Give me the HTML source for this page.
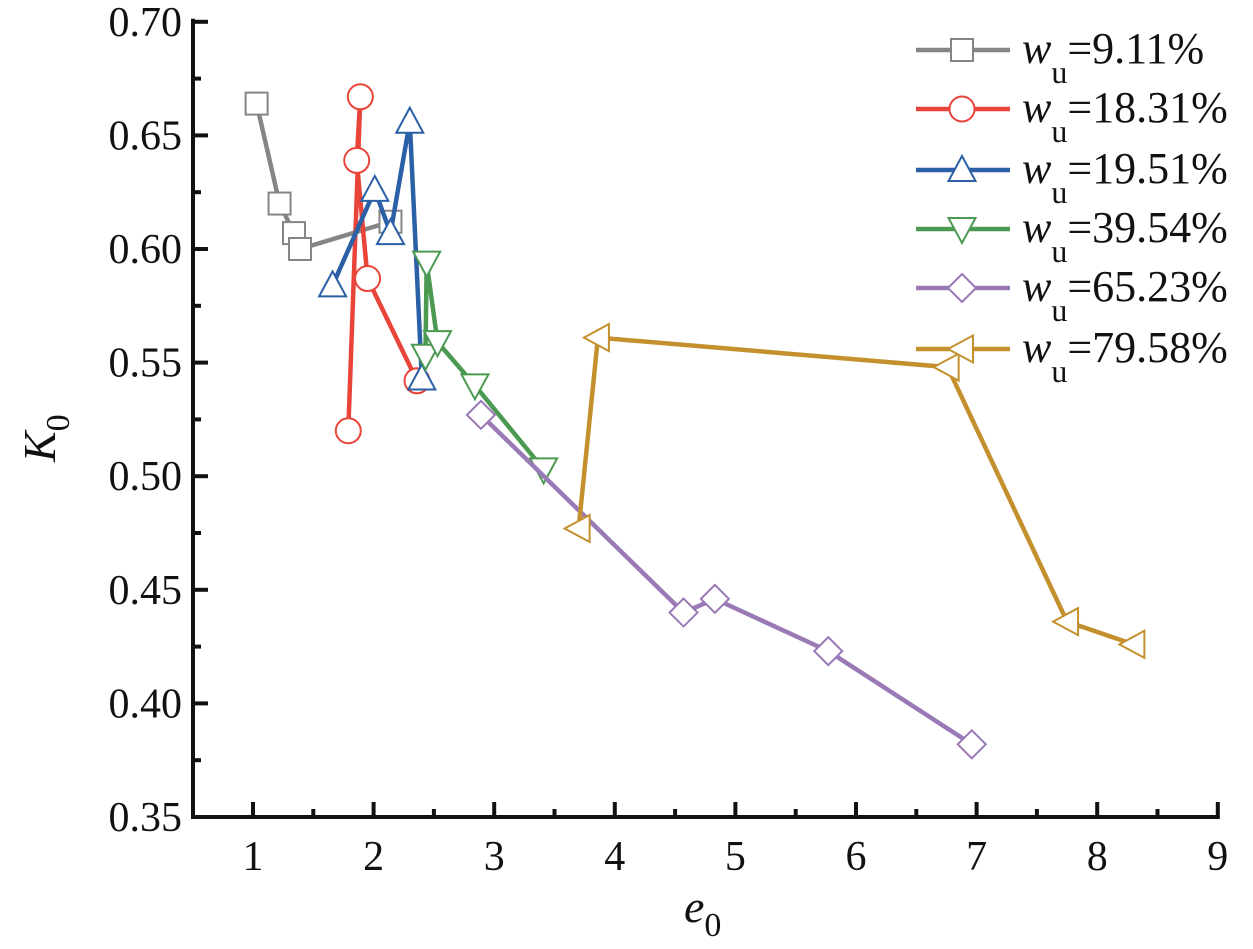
<!DOCTYPE html>
<html><head><meta charset="utf-8"><style>
body{margin:0;background:#fff}
svg{display:block}
svg text{font-family:"Liberation Serif","Times New Roman","DejaVu Serif",serif}
</style></head><body>
<svg id="chart" width="1253" height="949" xmlns="http://www.w3.org/2000/svg" font-family="Liberation Serif, serif">
<g id="axes"></g>
<g id="series"></g>
<g id="legend"></g>
</svg>
<script>
const xTicks=[1,2,3,4,5,6,7,8,9];
const yTicks=[0.35,0.40,0.45,0.50,0.55,0.60,0.65,0.70];
const yTickLabels=["0.35","0.40","0.45","0.50","0.55","0.60","0.65","0.70"];
const seriesNames=["9.11%","18.31%","19.51%","39.54%","65.23%","79.58%"];
const e911=[1.03,1.22,1.34,1.39,2.14];
const k911=[0.664,0.620,0.607,0.600,0.612];
const e1831=[1.79,1.89,1.86,1.95,2.36];
const k1831=[0.520,0.667,0.639,0.587,0.542];
const e1951=[1.66,2.01,2.14,2.30,2.40];
const k1951=[0.584,0.626,0.607,0.656,0.543];
const e3954=[2.43,2.44,2.53,2.84,3.41];
const k3954=[0.553,0.594,0.559,0.540,0.503];
const e6523=[2.89,4.57,4.83,5.77,6.96];
const k6523=[0.527,0.440,0.446,0.423,0.382];
const e7958=[3.70,3.86,6.76,7.75,8.30];
const k7958=[0.477,0.561,0.548,0.436,0.426];

const NS="http://www.w3.org/2000/svg";
const X0=193,Y0=817;
function xs(e){return 253+(e-1)*120.6;}
function ys(k){return 817-(k-0.35)/0.05*113.6;}
function mk(tag,attrs,parent){const el=document.createElementNS(NS,tag);for(const a in attrs)el.setAttribute(a,attrs[a]);parent.appendChild(el);return el;}
const FF="Liberation Serif, Times New Roman, DejaVu Serif, serif";

const axes=document.getElementById('axes');
let ax=mk('path',{d:`M${X0} ${ys(0.70)-3}V${Y0}H${xs(9)+2}`,fill:'none',stroke:'#111','stroke-width':4},axes);


xTicks.forEach((t,i)=>{
  const x=xs(t);
  let tk=mk('line',{x1:x,x2:x,y1:Y0,y2:Y0-15,stroke:'#111','stroke-width':4},axes);
  
  
  if(i<xTicks.length-1){let m=mk('line',{x1:x+60.3,x2:x+60.3,y1:Y0,y2:Y0-8,stroke:'#111','stroke-width':4},axes);
  
  }
  let tl=mk('text',{x:x,y:870,'font-size':42,'text-anchor':'middle',fill:'#111','font-family':FF},axes);tl.textContent=t;
  
  
});
yTicks.forEach((t,i)=>{
  const y=ys(t);
  let tk=mk('line',{x1:X0,x2:X0+15,y1:y,y2:y,stroke:'#111','stroke-width':4},axes);
  
  
  if(i<yTicks.length-1){let m=mk('line',{x1:X0,x2:X0+8,y1:y-56.8,y2:y-56.8,stroke:'#111','stroke-width':4},axes);
  
  }
  let tl=mk('text',{x:182,y:y+14,'font-size':42,'text-anchor':'end',fill:'#111','font-family':FF},axes);tl.textContent=yTickLabels[i];
  
  
});
let xt=mk('text',{x:684,y:922,'font-size':46,'font-style':'italic',fill:'#111','font-family':FF},axes);
xt.innerHTML='e<tspan font-style="normal" font-size="34" dy="14">0</tspan>';


let yt=mk('text',{transform:'translate(55,462) rotate(-90)','font-size':46,'font-style':'italic',fill:'#111','font-family':FF},axes);
yt.innerHTML='K<tspan font-style="normal" font-size="34" dy="14">0</tspan>';



const colors=['#858585','#e8443a','#2b5fa6','#4c9a52','#9a7ab6','#c4902e'];
const shapes=['square','circle','up','down','diamond','left'];
const data=[[e911,k911],[e1831,k1831],[e1951,k1951],[e3954,k3954],[e6523,k6523],[e7958,k7958]];
function marker(shape,x,y,c,parent){
  const a={fill:'#fff',stroke:c,'stroke-width':2};
  let el;
  if(shape==='square')el=mk('rect',Object.assign({x:x-11,y:y-11,width:22,height:22},a),parent);
  else if(shape==='circle')el=mk('circle',Object.assign({cx:x,cy:y,r:12.5},a),parent);
  else if(shape==='up')el=mk('polygon',Object.assign({points:`${x},${y-14} ${x-13.5},${y+11} ${x+13.5},${y+11}`},a),parent);
  else if(shape==='down')el=mk('polygon',Object.assign({points:`${x},${y+14} ${x-13.5},${y-11} ${x+13.5},${y-11}`},a),parent);
  else if(shape==='diamond')el=mk('polygon',Object.assign({points:`${x},${y-14} ${x+14},${y} ${x},${y+14} ${x-14},${y}`},a),parent);
  else el=mk('polygon',Object.assign({points:`${x-14},${y} ${x+11},${y-13.5} ${x+11},${y+13.5}`},a),parent);
  
  
}
const sg=document.getElementById('series');
data.forEach(([es,ks],i)=>{
  const g=mk('g',{},sg);
  
  
  const pts=es.map((e,j)=>xs(e)+','+ys(ks[j])).join(' ');
  const pl=mk('polyline',{points:pts,fill:'none',stroke:colors[i],'stroke-width':4.5,'stroke-linejoin':'round'},g);
  
  
  es.forEach((e,j)=>marker(shapes[i],xs(e),ys(ks[j]),colors[i],g));
});
const lg=document.getElementById('legend');
const rowsY=[50,109,170,229,288,349];
seriesNames.forEach((n,i)=>{
  const g=mk('g',{},lg);
  
  
  const y=rowsY[i];
  mk('line',{x1:916,x2:1010,y1:y,y2:y,stroke:colors[i],'stroke-width':4.5},g);
  marker(shapes[i],962,y,colors[i],g);
  const t=mk('text',{x:1022,y:y+13,'font-size':44,fill:'#111','font-family':FF},g);
  t.innerHTML='<tspan font-style="italic">w</tspan><tspan font-size="32" dy="20">u</tspan><tspan dy="-20">='+n+'</tspan>';
  
  
});
</script>
</body></html>
